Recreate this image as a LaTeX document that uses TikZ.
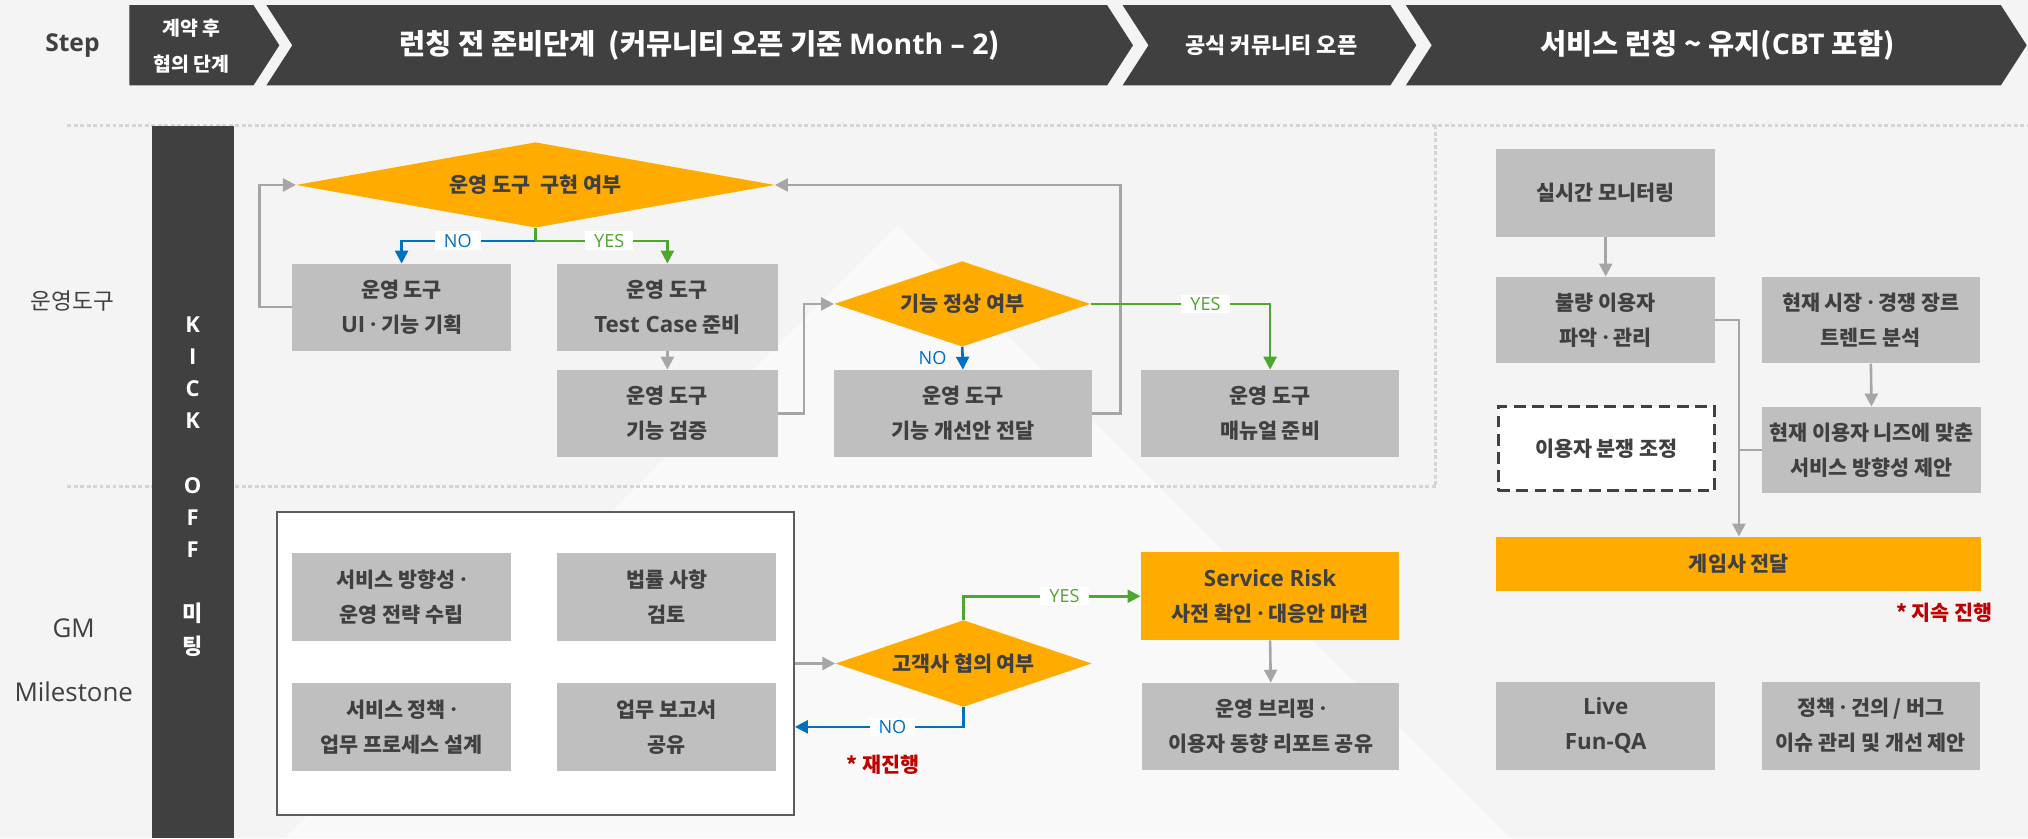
\documentclass[tikz,border=0pt]{standalone}
\usepackage{fontspec}
\setmainfont{Noto Sans CJK KR}
\newfontfamily\lat[Scale=1.08]{Open Sans}
\newfontfamily\latn{Open Sans}
\usetikzlibrary{shapes.geometric,arrows.meta,calc}
\newcommand\fsz[2]{\fontsize{#1}{#2}\selectfont}
\newcommand\md{{\lat ·}}
\definecolor{bg}{HTML}{F4F4F4}
\definecolor{bglight}{HTML}{F9F9F9}
\definecolor{dark}{HTML}{404040}
\definecolor{boxg}{HTML}{BFBFBF}
\definecolor{orng}{HTML}{FFAB00}
\definecolor{lnG}{HTML}{A6A6A6}
\definecolor{blu}{HTML}{0070C0}
\definecolor{grn}{HTML}{4EA72E}
\definecolor{redt}{HTML}{C00000}
\definecolor{dotc}{HTML}{D4D4D4}
\begin{document}
\begin{tikzpicture}[x=1pt,y=-1pt,
  gbox/.style={fill=boxg, text=dark, font=\fsz{16}{27}\bfseries, align=center, inner sep=0pt, minimum width=169pt, minimum height=67pt},
  obox/.style={gbox, fill=orng},
  dia/.style={diamond, fill=orng, inner sep=0pt},
  dtxt/.style={text=dark, font=\fsz{16}{20}\bfseries, inner sep=0pt},
  conn/.style={line width=2pt, -{Triangle[length=10pt,width=10pt]}},
  garr/.style={conn, draw=lnG},
  yarr/.style={conn, draw=grn},
  narr/.style={conn, draw=blu},
  gline/.style={line width=2pt, draw=lnG},
  lbl/.style={fill=white, inner xsep=7pt, inner ysep=2pt, font=\latn\fsz{14}{16}},
  hdr/.style={text=white, align=center, inner sep=0pt},
  sidelbl/.style={text=dark, inner sep=0pt},
  rednote/.style={text=redt, font=\fsz{16}{20}\bfseries, inner sep=0pt},
  dotl/.style={draw=dotc, line width=2.5pt, dash pattern=on 3pt off 2pt},
  chev/.style={fill=dark}
]
\useasboundingbox (0,0) rectangle (1568,648);
\fill[bg] (0,0) rectangle (1568,648);
% faint background geometry
\fill[bglight] (694,174) -- (1168,648) -- (220,648) -- cycle;

% header
\fill[chev] (100,4) -- (196,4) -- (216,35) -- (196,66) -- (100,66) -- cycle;
\fill[chev] (206,4) -- (856,4) -- (876,35) -- (856,66) -- (206,66) -- (226,35) -- cycle;
\fill[chev] (868,4) -- (1075,4) -- (1095,35) -- (1075,66) -- (868,66) -- (888,35) -- cycle;
\fill[chev] (1087,4) -- (1547,4) -- (1567,35) -- (1547,66) -- (1087,66) -- (1107,35) -- cycle;
\node[sidelbl, font=\latn\fsz{19}{20}\bfseries] (step) at (56,35) {Step};
\node[hdr, font=\fsz{15}{28}\bfseries] (h1) at (148,36) {계약 후\\협의 단계};
\node[hdr, font=\fsz{22}{26}\bfseries] (h2) at (541,35) {런칭 전 준비단계\ \ (커뮤니티 오픈 기준 {\latn Month – 2})};
\node[hdr, font=\fsz{17}{20}\bfseries] (h3) at (983,35) {공식 커뮤니티 오픈};
\node[hdr, font=\fsz{22}{26}\bfseries] (h4) at (1328,35) {서비스 런칭 \textasciitilde{} 유지({\latn CBT} 포함)};

% dotted separators
\draw[dotl] (52,97) -- (1568,97);
\draw[dotl] (52,376) -- (1110,376);
\draw[dotl] (1110,97) -- (1110,376);

% side labels
\node[sidelbl, font=\fsz{17.5}{20}] (lop) at (56,233) {운영도구};
\node[sidelbl, font=\latn\fsz{20}{22}] (lgm) at (57,486) {GM};
\node[sidelbl, font=\latn\fsz{20}{22}] (lms) at (57,535) {Milestone};

% kick off bar
\node[fill=dark, minimum width=64pt, minimum height=551pt, inner sep=0pt, anchor=north west] (kick) at (117,97) {};
\node[text=white, font=\latn\fsz{17}{24.9}\bfseries, align=center, inner sep=0pt] (kicktxt) at (149,376) {K\\I\\C\\K\\[24.9pt]O\\F\\F\\[24.9pt]{\fontspec{Noto Sans CJK KR}\bfseries 미}\\{\fontspec{Noto Sans CJK KR}\bfseries 팅}};

% upper flow
\node[dia, minimum width=370pt, minimum height=66pt] (d1) at (414,143) {};
\node[dtxt] (d1t) at (d1) {운영 도구\ \ 구현 여부};
\node[gbox] (A) at (310.5,237.5) {운영 도구\\{\lat UI} \md{} 기능 기획};
\node[gbox, minimum width=171pt] (B) at (516,237.5) {운영 도구\\{\lat Test Case} 준비};
\node[gbox, minimum width=171pt] (C) at (516,319.5) {운영 도구\\기능 검증};
\node[dia, minimum width=198pt, minimum height=66pt] (d2) at (744,235) {};
\node[dtxt] (d2t) at (d2) {기능 정상 여부};
\node[gbox, minimum width=199pt] (D) at (744.5,319.5) {운영 도구\\기능 개선안 전달};
\node[gbox, minimum width=200pt] (E) at (982,319.5) {운영 도구\\매뉴얼 준비};

\draw[yarr] (d1.south) -- ++(0,10) -| (B.north);
\draw[narr] ($(d1.south)+(0,10)$) -| (A.north);
\node[lbl, text=blu] (no1) at (354,186) {NO};
\node[lbl, text=grn] (yes1) at (471,186) {YES};
\draw[garr] (A.west) -- ++(-25,0) |- (d1.west);
\draw[garr] (B.south) -- (C.north);
\draw[garr] (C.east) -- ++(20,0) |- (d2.west);
\draw[narr] (d2.south) -- (D.north);
\node[text=blu, font=\latn\fsz{14}{16}, inner sep=0pt] (no2) at (721,277) {NO};
\draw[garr] (D.east) -- ++(22,0) |- (d1.east);
\draw[yarr] (d2.east) -| (E.north);
\node[lbl, text=grn] (yes2) at (932,235) {YES};

% right upper
\node[gbox, minimum height=68pt] (F) at (1241.5,149) {실시간 모니터링};
\node[gbox] (G) at (1241.5,247.5) {불량 이용자\\파악 \md{} 관리};
\node[gbox] (H) at (1446.5,247.5) {현재 시장 \md{} 경쟁 장르\\트렌드 분석};
\node[gbox] (I) at (1447,348) {현재 이용자 니즈에 맞춘\\서비스 방향성 제안};
\node[gbox, fill=white, draw=dark, line width=2.5pt, dash pattern=on 9pt off 5pt, minimum width=167pt, minimum height=65pt] (dis) at (1242,347) {이용자 분쟁 조정};
\node[obox, minimum width=375pt, minimum height=42pt] (gm) at (1344.5,436) {게임사 전달};
\node[rednote, anchor=east] (keep) at (1541,474) {* 지속 진행};
\node[gbox, minimum height=68pt] (live) at (1241.5,561) {{\lat Live}\\{\lat Fun-QA}};
\node[gbox, minimum height=68pt] (pol) at (1446.5,561) {정책 \md{} 건의 / 버그\\이슈 관리 및 개선 제안};
\draw[garr] (F.south) -- (G.north);
\draw[garr] (H.south) -- (I.north);
\draw[garr] (G.east) -| (gm.north);
\draw[gline] (I.west) -- (I.west -| gm.north);

% lower left
\node[draw=dark!85, line width=1.2pt, fill=white, minimum width=400pt, minimum height=234pt, inner sep=0pt] (outer) at (414,513) {};
\node[gbox, minimum height=68pt] (G1) at (310.5,461.5) {서비스 방향성 \md\\운영 전략 수립};
\node[gbox, minimum height=68pt] (H1) at (515.5,461.5) {법률 사항\\검토};
\node[gbox, minimum height=68pt] (I1) at (310.5,562) {서비스 정책 \md\\업무 프로세스 설계};
\node[gbox, minimum height=68pt] (J1) at (515.5,562) {업무 보고서\\공유};
\node[dia, minimum width=198pt, minimum height=67pt] (d3) at (745,513) {};
\node[dtxt] (d3t) at (d3) {고객사 협의 여부};
\node[obox, minimum width=200pt, minimum height=68pt] (SR) at (982,461) {{\lat Service Risk}\\사전 확인 \md{} 대응안 마련};
\node[gbox, minimum width=199pt] (K) at (982.5,561.5) {운영 브리핑 \md\\이용자 동향 리포트 공유};
\draw[garr] (outer.east) -- (d3.west);
\draw[yarr] (d3.north) |- (SR.west);
\node[lbl, text=grn] (yes3) at (823,461) {YES};
\draw[narr] (d3.south) |- (outer.east |- J1.center);
\node[lbl, text=blu] (no3) at (690,562) {NO};
\node[rednote] (redo) at (683,591) {* 재진행};
\draw[garr] (SR.south) -- (K.north);
\end{tikzpicture}
\end{document}
